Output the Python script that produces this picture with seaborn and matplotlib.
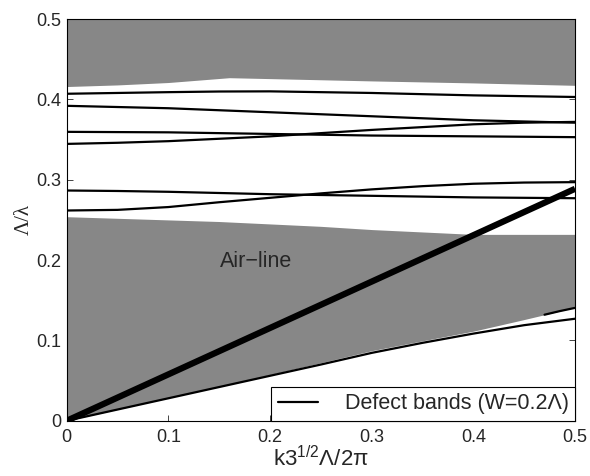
import numpy as np
import pandas as pd
import seaborn as sns
import matplotlib.pyplot as plt

# k3^(1/2)Λ/2π grid used for all curves
k = [0.0, 0.05, 0.1, 0.15, 0.2, 0.25, 0.3, 0.35, 0.4, 0.45, 0.5]

# upper gray region: lower boundary (top goes to 0.5)
upper_k = [0.0, 0.05, 0.1, 0.16, 0.3, 0.4, 0.5]
upper_edge = [0.416, 0.418, 0.421, 0.427, 0.423, 0.4205, 0.4175]
# lower gray region: top and bottom boundaries
lower_top = [0.254, 0.252, 0.250, 0.248, 0.245, 0.242, 0.238, 0.235, 0.232, 0.232, 0.232]
lower_bot = [0.0, 0.0142, 0.0284, 0.0428, 0.0574, 0.0722, 0.0872, 0.0995, 0.1115, 0.126, 0.141]

# defect bands (Λ/λ)
band1 = [0.407, 0.408, 0.409, 0.4098, 0.410, 0.409, 0.408, 0.4065, 0.405, 0.404, 0.403]
band2 = [0.392, 0.3905, 0.389, 0.3865, 0.384, 0.3815, 0.379, 0.3765, 0.374, 0.3725, 0.371]
band3 = [0.3596, 0.3593, 0.359, 0.358, 0.357, 0.356, 0.355, 0.3545, 0.354, 0.3535, 0.353]
band4 = [0.3446, 0.346, 0.348, 0.351, 0.354, 0.358, 0.362, 0.3655, 0.369, 0.371, 0.372]
band5 = [0.2866, 0.286, 0.285, 0.2835, 0.282, 0.281, 0.280, 0.279, 0.278, 0.2775, 0.277]
band6 = [0.2617, 0.2625, 0.266, 0.272, 0.2775, 0.283, 0.288, 0.292, 0.295, 0.2965, 0.297]
band7 = [0.0, 0.014, 0.028, 0.042, 0.056, 0.070, 0.0845, 0.097, 0.1085, 0.119, 0.127]
edge_k = [0.47, 0.485, 0.5]
edge_band = [0.132, 0.1365, 0.1405]

# air line: Λ/λ = x / sqrt(3)
air_k = [0.0, 0.5]
air_y = [0.0, 0.2887]

sns.set_style('ticks')
plt.rcParams['font.family'] = ['Liberation Sans', 'DejaVu Sans']
plt.rcParams['mathtext.fontset'] = 'custom'
plt.rcParams['mathtext.rm'] = 'Liberation Sans'
plt.rcParams['mathtext.it'] = 'Liberation Sans:italic'

fig = plt.figure(figsize=(5.9, 4.76), dpi=100)
ax = fig.add_axes([0.113, 0.116, 0.8616, 0.844])

gray = '#878787'
ax.fill_between(upper_k, upper_edge, 0.5, color=gray, lw=0)
ax.fill_between(k, lower_bot, lower_top, color=gray, lw=0)

bands = [band1, band2, band3, band4, band5, band6, band7]
df = pd.DataFrame({'k': k * len(bands),
                   'f': sum(bands, []),
                   'band': np.repeat(np.arange(len(bands)), len(k))})
sns.lineplot(data=df, x='k', y='f', units='band', estimator=None,
             color='black', lw=1.6, ax=ax, legend=False)
sns.lineplot(x=edge_k, y=edge_band, color='black', lw=1.6, ax=ax)
sns.lineplot(x=air_k, y=air_y, color='black', lw=4.5, ax=ax, solid_capstyle='butt')

ax.text(0.151, 0.198, 'Air\u2212line', fontsize=15.5, va='center', ha='left')

ax.set_xlim(0, 0.5)
ax.set_ylim(0, 0.5)
ticks = [0, 0.1, 0.2, 0.3, 0.4, 0.5]
tick_labels = ['0', '0.1', '0.2', '0.3', '0.4', '0.5']
ax.set_xticks(ticks)
ax.set_xticklabels(tick_labels)
ax.set_yticks(ticks)
ax.set_yticklabels(tick_labels)
ax.tick_params(direction='in', length=4, width=0.6, labelsize=13,
               top=True, right=True, pad=4)
ax.tick_params(axis='x', pad=6)
for s in ax.spines.values():
    s.set_linewidth(0.8)
    s.set_color('black')

ax.set_xlabel(r'k3$^{1/2}$Λ/2π', fontsize=16, labelpad=0)
ax.set_ylabel('Λ/λ', fontsize=15, labelpad=2, family=['Liberation Serif', 'DejaVu Serif'])

handle = ax.lines[0]
leg = ax.legend([handle], ['Defect bands (W=0.2Λ)'], loc='lower right',
                fontsize=15.5, frameon=True, fancybox=False,
                edgecolor='black', borderaxespad=0, handlelength=1.86,
                borderpad=0.3, handletextpad=1.25)
leg.get_frame().set_linewidth(0.8)
leg.get_frame().set_alpha(1)

fig.savefig('out.png', dpi=100)
